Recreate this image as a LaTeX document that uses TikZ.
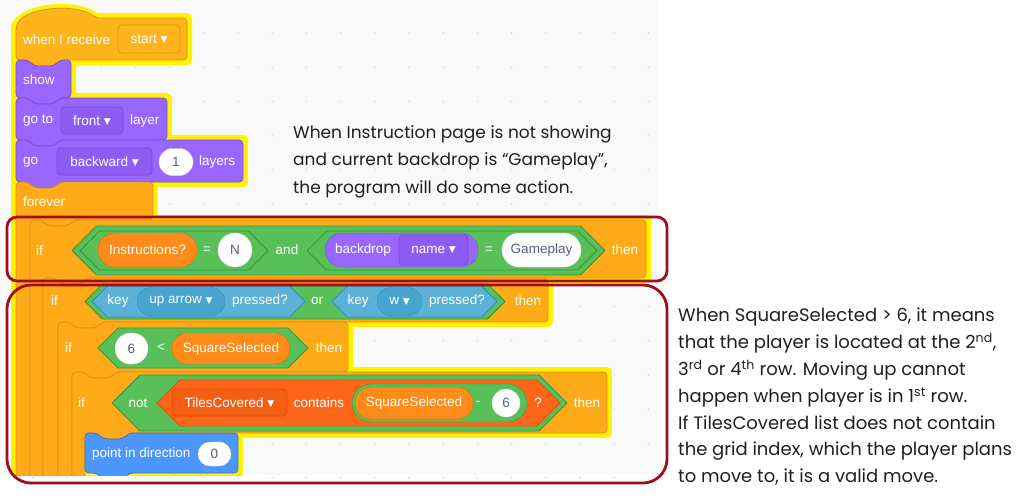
\documentclass[tikz,border=0pt]{standalone}
\usepackage{fontspec}
\setmainfont{Liberation Sans}
\newfontfamily\notefont{Poppins}
\newfontfamily\arrowfont{DejaVu Sans}
\usetikzlibrary{shapes.misc}

\definecolor{canvas}{HTML}{F9F9F9}
\definecolor{gridgrey}{HTML}{DADADA}
\definecolor{glowyellow}{HTML}{FFF200}
\definecolor{hatfill}{HTML}{FFB41C}
\definecolor{ctrlfill}{HTML}{FFAB19}
\definecolor{ctrlline}{HTML}{D8901A}
\definecolor{looksfill}{HTML}{9966FF}
\definecolor{looksline}{HTML}{774DCB}
\definecolor{looksmenu}{HTML}{8D5CF4}
\definecolor{opfill}{HTML}{59C059}
\definecolor{opline}{HTML}{389438}
\definecolor{sensefill}{HTML}{5CB1D6}
\definecolor{senseline}{HTML}{2E8EB8}
\definecolor{sensemenu}{HTML}{47A5CF}
\definecolor{varfill}{HTML}{FF8C1A}
\definecolor{varline}{HTML}{DB6E00}
\definecolor{listfill}{HTML}{FF661A}
\definecolor{listline}{HTML}{E64D00}
\definecolor{listmenu}{HTML}{F25F14}
\definecolor{motionfill}{HTML}{4C97FF}
\definecolor{motionline}{HTML}{3373CC}
\definecolor{valtext}{HTML}{575E75}
\definecolor{notered}{HTML}{A30D1B}

\newcommand{\arr}{{\arrowfont\fontsize{9}{9}\selectfont\raisebox{0.5pt}{▼}}}
\newcommand{\stackblk}[5]{\draw[#1] (#2,#3) -- ({#2+12},#3) -- ++(6,6) -- ++(20,0) -- ++(6,-6) -- (#4,#3) -- (#4,#5) -- ({#2+44},#5) -- ++(-6,6) -- ++(-20,0) -- ++(-6,-6) -- (#2,#5) -- cycle;}
\newcommand{\cblk}[6]{\draw[#1] (#2,#3) -- ({#2+12},#3) -- ++(6,6) -- ++(20,0) -- ++(6,-6) -- (#4,#3) -- (#4,#5) -- ({#2+#6+44},#5) -- ++(-6,6) -- ++(-20,0) -- ++(-6,-6) -- ({#2+#6},#5) -- ({#2+#6},520) -- (#2,520) -- cycle;}
\newcommand{\boolhex}[5]{\draw[#1] (#2,{(#4+#5)/2}) -- ({#2+(#5-#4)/2},#4) -- ({#3-(#5-#4)/2},#4) -- (#3,{(#4+#5)/2}) -- ({#3-(#5-#4)/2},#5) -- ({#2+(#5-#4)/2},#5) -- cycle;}

\begin{document}
\begin{tikzpicture}[x=1pt, y=-1pt,
  blk/.style={rounded corners=4pt, line width=0.8pt},
  hatblk/.style={blk, fill=hatfill, draw=ctrlline},
  ctrlblk/.style={blk, fill=ctrlfill, draw=ctrlline},
  looksblk/.style={blk, fill=looksfill, draw=looksline},
  motionblk/.style={blk, fill=motionfill, draw=motionline},
  ophex/.style={fill=opfill, draw=opline, line width=0.8pt, line join=round},
  sensehex/.style={fill=sensefill, draw=senseline, line width=0.8pt, line join=round},
  listhex/.style={fill=listfill, draw=listline, line width=0.8pt, line join=round},
  glow/.style={fill=glowyellow, draw=glowyellow, line width=10pt, line join=round},
  lbl/.style={text=white, font={\fontsize{13.5}{16}\selectfont}, inner sep=0pt},
  pill/.style={rectangle, rounded corners=#1, minimum height=2*#1, inner sep=0pt, font={\fontsize{13.5}{16}\selectfont}},
  valpill/.style={pill=#1, fill=white, draw=black!12, text=valtext},
  varpill/.style={pill=#1, fill=varfill, draw=varline, text=white},
  menu/.style={rectangle, rounded corners=4pt, inner sep=0pt, text=white, line width=0.8pt, font={\fontsize{13.5}{16}\selectfont}},
  note/.style={text=black!88, align=left, inner sep=0pt},
  notebox/.style={draw=notered, line width=2.8pt}]
\useasboundingbox (0,0) rectangle (1024,499);
\fill[white] (0,0) rectangle (1024,499);
\fill[canvas] (0,0) rectangle (657,475);
\foreach \i in {1,...,19}
  \foreach \j in {1,...,14}
    \fill[gridgrey] ({-1.4+34.2*\i},{-1.2+34.2*\j}) circle (0.9pt);

\begin{scope}
\clip (0,0) rectangle (657,475);
% glow round the script
\draw[glow] (16,26) .. controls (28,6) and (78,4) .. (96,18) -- (187,18) -- (187,60) -- (16,60) -- cycle;
\foreach \xa/\ya/\xb/\yb in {16/60/71/98, 16/98/167/140, 16/140/243/182, 16/182/153/220, 30/220/646/278, 43/278/548/322, 58/322/348/372, 72/372/607/433, 85/433/238/473, 16/182/85/520}
  \draw[glow] (\xa,\ya) rectangle (\xb,\yb);

% blocks
\draw[hatblk] (16,26) .. controls (28,6) and (78,4) .. (96,18) -- (187,18) -- (187,60) -- (60,60) -- ++(-6,6) -- ++(-20,0) -- ++(-6,-6) -- (16,60) -- cycle;
\stackblk{looksblk}{16}{60}{71}{98}
\stackblk{looksblk}{16}{98}{167}{140}
\stackblk{looksblk}{16}{140}{243}{182}
\cblk{ctrlblk}{16}{182}{153}{220}{14}
\cblk{ctrlblk}{30}{220}{646}{278}{13}
\cblk{ctrlblk}{43}{278}{548}{322}{15}
\cblk{ctrlblk}{58}{322}{348}{372}{14}
\cblk{ctrlblk}{72}{372}{607}{433}{13}
\stackblk{motionblk}{85}{433}{238}{473}

% when I receive
\node[lbl, anchor=west] (recvlbl) at (23,40) {when I receive};
\node[menu, fill=hatfill, draw=ctrlline, minimum width=62, minimum height=28] (recvmenu) at (149,39) {start \arr};
\node[lbl, anchor=west] (showlbl) at (23,80) {show};
\node[lbl, anchor=west] (gotolbl) at (23,121) {go to};
\node[menu, fill=looksmenu, draw=looksline, minimum width=62, minimum height=27] (layermenu) at (92,120.5) {front \arr};
\node[lbl, anchor=west] (layerlbl) at (130,121) {layer};
\node[lbl, anchor=west] (golbl) at (23,162) {go};
\node[menu, fill=looksmenu, draw=looksline, minimum width=95, minimum height=27] (dirmenu) at (104.5,161.5) {backward \arr};
\node[valpill=13.5pt, minimum width=34] (numlayers) at (176,162) {1};
\node[lbl, anchor=west] (layerslbl) at (199,162) {layers};
\node[lbl, anchor=west] (foreverlbl) at (23,202) {forever};

% if 1
\node[lbl, anchor=west] (ifa) at (36,251) {if};
\boolhex{ophex}{72}{605}{226}{275}
\boolhex{ophex}{80}{268}{231}{270}
\boolhex{ophex}{307}{597}{231}{270}
\node[varpill=17pt, minimum width=99] (instr) at (147.5,250) {Instructions?};
\node[lbl] (eqa) at (207,250) {=};
\node[valpill=17pt, minimum width=34] (valn) at (235,250) {N};
\node[lbl] (andlbl) at (287,250) {and};
\node[pill=17pt, fill=looksfill, draw=looksline, minimum width=153] (backdrop) at (401.5,250) {};
\node[lbl] (backdroplbl) at (363,250) {backdrop};
\node[menu, fill=looksmenu, draw=looksline, minimum width=69, minimum height=30] (namemenu) at (433.5,250) {name \arr};
\node[lbl] (eqb) at (489,250) {=};
\node[valpill=17pt, minimum width=79] (valgame) at (541.5,250) {Gameplay};
\node[lbl] (thena) at (625,250) {then};

% if 2
\node[lbl, anchor=west] (ifb) at (51,301) {if};
\boolhex{ophex}{85}{505}{284}{319}
\boolhex{sensehex}{92}{305}{286}{317}
\boolhex{sensehex}{332}{497}{286}{317}
\node[lbl] (keya) at (118,301) {key};
\node[pill=14pt, fill=sensemenu, draw=senseline, text=white, minimum width=88] (upmenu) at (181,301.5) {up arrow \arr};
\node[lbl] (presseda) at (260,301) {pressed?};
\node[lbl] (orlbl) at (317,301) {or};
\node[lbl] (keyb) at (358,301) {key};
\node[pill=14pt, fill=sensemenu, draw=senseline, text=white, minimum width=45] (wmenu) at (399.5,301.5) {w \arr};
\node[lbl] (pressedb) at (457,301) {pressed?};
\node[lbl] (thenb) at (528,301) {then};

% if 3
\node[lbl, anchor=west] (ifc) at (65,348) {if};
\boolhex{ophex}{98}{308}{328}{368}
\node[valpill=15.5pt, minimum width=33] (valsix) at (131.5,348.5) {6};
\node[lbl] (ltlbl) at (161,348) {<};
\node[varpill=15.5pt, minimum width=118] (squarea) at (231,348.5) {SquareSelected};
\node[lbl] (thenc) at (329,348) {then};

% if 4
\node[lbl, anchor=west] (ifd) at (78,403) {if};
\boolhex{ophex}{112}{567}{375}{431}
\node[lbl] (notlbl) at (138,403) {not};
\boolhex{listhex}{157}{560}{380}{426}
\node[menu, fill=listmenu, draw=listline, minimum width=115, minimum height=27] (tilesmenu) at (229.5,402.5) {TilesCovered \arr};
\node[lbl] (containslbl) at (319,403) {contains};
\node[pill=19pt, fill=opfill, draw=opline, minimum width=175] (minusop) at (439.5,403) {};
\node[varpill=16pt, minimum width=118] (squareb) at (414,403) {SquareSelected};
\node[lbl] (minuslbl) at (478,403) {-};
\node[valpill=14pt, minimum width=28] (valsixb) at (506,403) {6};
\node[lbl] (qlbl) at (538,403) {?};
\node[lbl] (thend) at (587,403) {then};

% point in direction
\node[lbl, anchor=west] (pointlbl) at (92,454) {point in direction};
\node[valpill=12pt, minimum width=33] (valzero) at (214.5,454) {0};
\end{scope}

% notes
\node[note, anchor=north west, font={\notefont\fontsize{17}{27.8}\selectfont}] (topnote) at (293,125) {When Instruction page is not showing\\and current backdrop is “Gameplay”,\\the program will do some action.};
\node[note, anchor=north west, font={\notefont\fontsize{18}{26.8}\selectfont}] (sidenote) at (678,308) {When SquareSelected > 6, it means\\that the player is located at the 2\textsuperscript{nd},\\3\textsuperscript{rd} or 4\textsuperscript{th} row. Moving up cannot\\happen when player is in 1\textsuperscript{st} row.\\If TilesCovered list does not contain\\the grid index, which the player plans\\to move to, it is a valid move.};

\draw[notebox, rounded corners=10pt] (7,217) rectangle (667,281);
\draw[notebox, rounded corners=24pt] (7,285) rectangle (667,483);
\end{tikzpicture}
\end{document}
